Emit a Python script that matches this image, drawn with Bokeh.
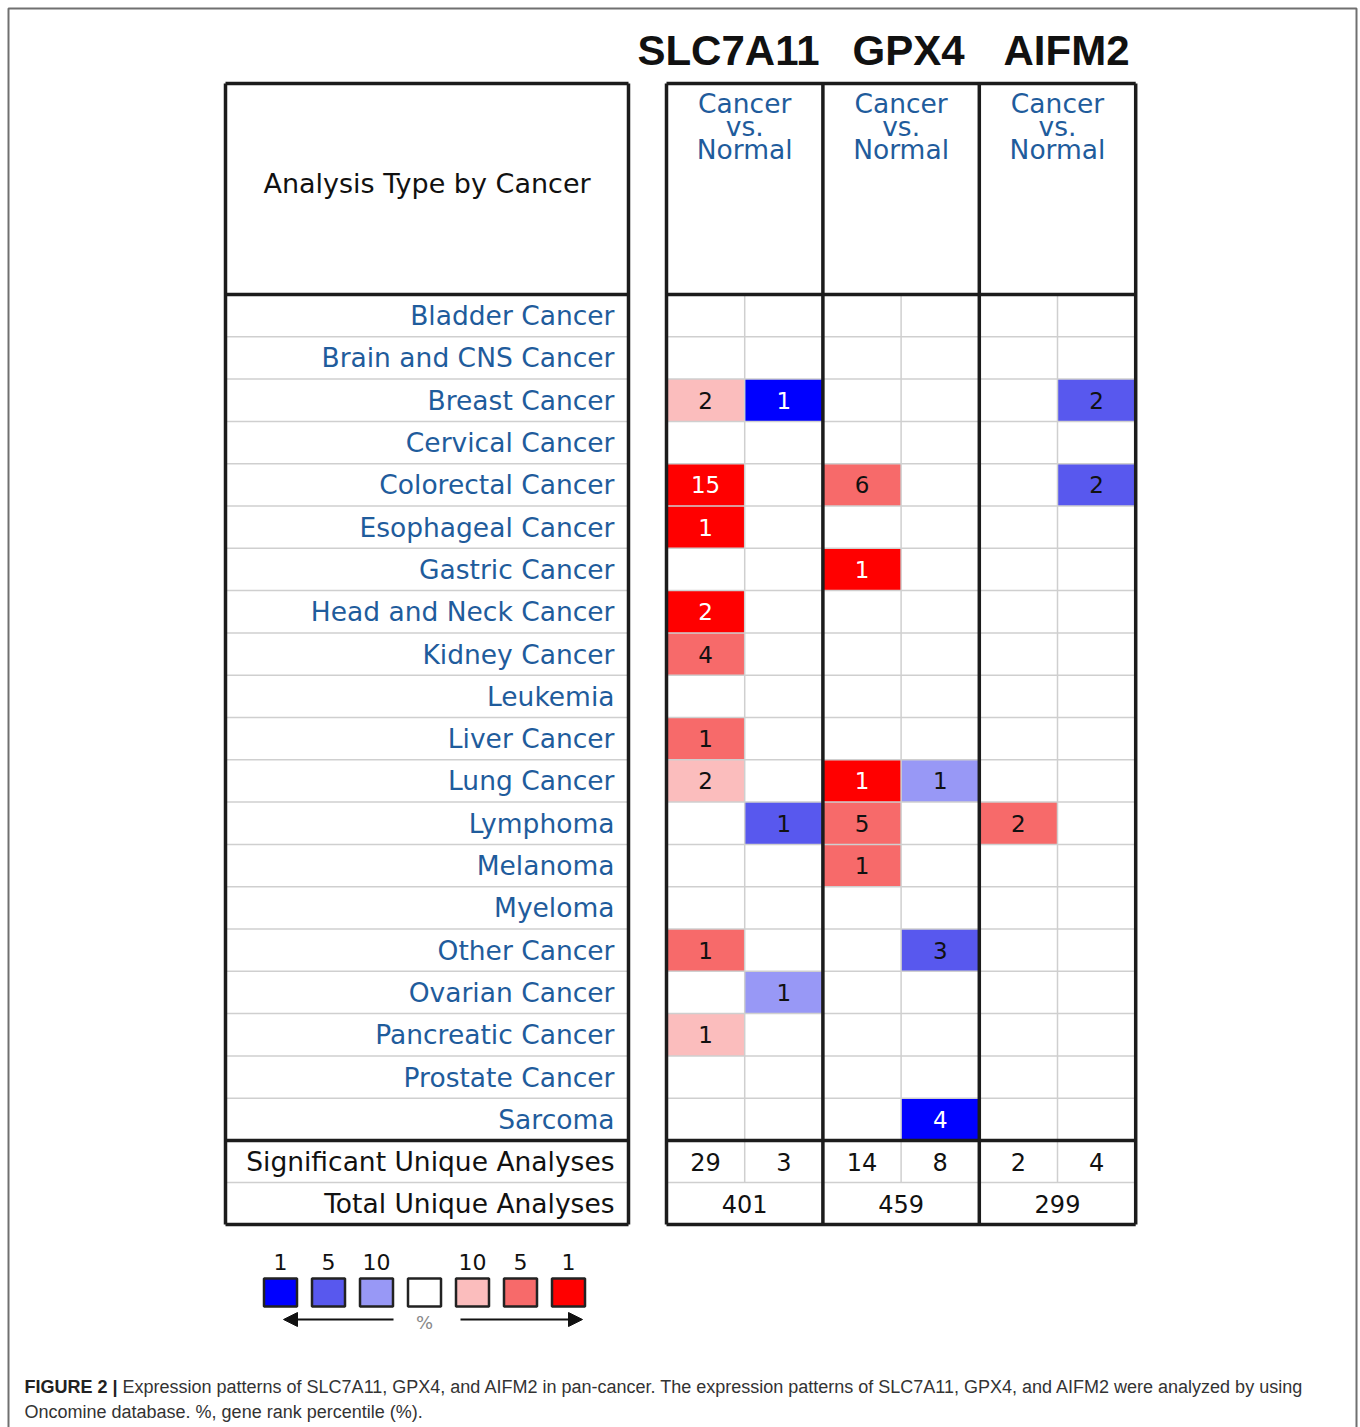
from bokeh.plotting import figure
from bokeh.models import Range1d, Arrow, NormalHead, ColumnDataSource
from bokeh.core.properties import value
from bokeh.embed import file_html
from bokeh.resources import INLINE

# ---------------- data ----------------
genes = ["SLC7A11", "GPX4", "AIFM2"]
cancers = ["Bladder Cancer", "Brain and CNS Cancer", "Breast Cancer", "Cervical Cancer",
           "Colorectal Cancer", "Esophageal Cancer", "Gastric Cancer", "Head and Neck Cancer",
           "Kidney Cancer", "Leukemia", "Liver Cancer", "Lung Cancer", "Lymphoma",
           "Melanoma", "Myeloma", "Other Cancer", "Ovarian Cancer", "Pancreatic Cancer",
           "Prostate Cancer", "Sarcoma"]
# counts of analyses (0 = none); over-expression (red) and under-expression (blue)
slc7a11_up   = [0, 0, 2, 0, 15, 1, 0, 2, 4, 0, 1, 2, 0, 0, 0, 1, 0, 1, 0, 0]
slc7a11_up_rank = [0, 0, 10, 0, 1, 1, 0, 1, 5, 0, 5, 10, 0, 0, 0, 5, 0, 10, 0, 0]
slc7a11_down = [0, 0, 1, 0, 0, 0, 0, 0, 0, 0, 0, 0, 1, 0, 0, 0, 1, 0, 0, 0]
slc7a11_down_rank = [0, 0, 1, 0, 0, 0, 0, 0, 0, 0, 0, 0, 5, 0, 0, 0, 10, 0, 0, 0]
gpx4_up      = [0, 0, 0, 0, 6, 0, 1, 0, 0, 0, 0, 1, 5, 1, 0, 0, 0, 0, 0, 0]
gpx4_up_rank = [0, 0, 0, 0, 5, 0, 1, 0, 0, 0, 0, 1, 5, 5, 0, 0, 0, 0, 0, 0]
gpx4_down    = [0, 0, 0, 0, 0, 0, 0, 0, 0, 0, 0, 1, 0, 0, 0, 3, 0, 0, 0, 4]
gpx4_down_rank = [0, 0, 0, 0, 0, 0, 0, 0, 0, 0, 0, 10, 0, 0, 0, 5, 0, 0, 0, 1]
aifm2_up     = [0, 0, 0, 0, 0, 0, 0, 0, 0, 0, 0, 0, 2, 0, 0, 0, 0, 0, 0, 0]
aifm2_up_rank = [0, 0, 0, 0, 0, 0, 0, 0, 0, 0, 0, 0, 5, 0, 0, 0, 0, 0, 0, 0]
aifm2_down   = [0, 0, 2, 0, 2, 0, 0, 0, 0, 0, 0, 0, 0, 0, 0, 0, 0, 0, 0, 0]
aifm2_down_rank = [0, 0, 5, 0, 5, 0, 0, 0, 0, 0, 0, 0, 0, 0, 0, 0, 0, 0, 0, 0]
significant = [[29, 3], [14, 8], [2, 4]]
total = [401, 459, 299]
legend_labels = ["1", "5", "10", "", "10", "5", "1"]
caption_bold = "FIGURE 2 |"
caption_1 = "Expression patterns of SLC7A11, GPX4, and AIFM2 in pan-cancer. The expression patterns of SLC7A11, GPX4, and AIFM2 were analyzed by using"
caption_2 = "Oncomine database. %, gene rank percentile (%)."

# ---------------- styles ----------------
RED = {1: "#ff0000", 5: "#f76a6a", 10: "#fbbdbd"}
BLUE = {1: "#0000ff", 5: "#5858ee", 10: "#9898f6"}
LINK = "#1f5c9c"
THICK = "#1c1c1c"
THIN = "#cfcfcf"
FONT = value("DejaVu Sans")
SANS = value("Liberation Sans")

# layout (pixels)
LX0, LX1 = 225, 628
RX0, GW = 666, 156.4
TOP, BODY, RH = 83, 294, 42.3
NR = len(cancers)
SIG_T = BODY + NR * RH
TOT_T = SIG_T + 42
BOT = TOT_T + 42
RX1 = RX0 + GW * len(genes)
TITLE_X = [728, 908, 1066]

p = figure(width=1360, height=1427, x_range=Range1d(0, 1360), y_range=Range1d(1427, 0),
           output_backend="svg", toolbar_location=None, min_border=0,
           x_axis_location=None, y_axis_location=None)
p.grid.visible = False
p.outline_line_color = None
p.background_fill_color = "white"
p.border_fill_color = "white"

# outer frame
p.quad(left=[8], right=[1356], top=[8], bottom=[1440], fill_color=None,
       line_color="#707070", line_width=2)

# ---------------- cells ----------------
cols = [(slc7a11_up, slc7a11_up_rank, slc7a11_down, slc7a11_down_rank),
        (gpx4_up, gpx4_up_rank, gpx4_down, gpx4_down_rank),
        (aifm2_up, aifm2_up_rank, aifm2_down, aifm2_down_rank)]
cl, cr, ct, cb, cc, tx, ty, tt, tc = [], [], [], [], [], [], [], [], []
for gi, (up, upr, dn, dnr) in enumerate(cols):
    for side, (vals, ranks, pal) in enumerate([(up, upr, RED), (dn, dnr, BLUE)]):
        for ri, (v, r) in enumerate(zip(vals, ranks)):
            if v:
                x0 = RX0 + gi * GW + side * GW / 2
                cl.append(x0); cr.append(x0 + GW / 2)
                ct.append(BODY + ri * RH); cb.append(BODY + (ri + 1) * RH)
                cc.append(pal[r])
                tx.append(x0 + GW / 4); ty.append(BODY + (ri + 0.5) * RH)
                tt.append(str(v)); tc.append("white" if r == 1 else "#111111")
p.quad(source=ColumnDataSource(dict(left=cl, right=cr, top=ct, bottom=cb, c=cc)),
       left="left", right="right", top="top", bottom="bottom",
       fill_color="c", line_color=None)

# thin grid lines
hx0, hx1, hy = [], [], []
for i in range(1, NR):
    for a, b in [(LX0, LX1), (RX0, RX1)]:
        hx0.append(a); hx1.append(b); hy.append(BODY + i * RH)
for a, b in [(LX0, LX1), (RX0, RX1)]:
    hx0.append(a); hx1.append(b); hy.append(TOT_T)
p.segment(x0=hx0, x1=hx1, y0=hy, y1=hy, line_color=THIN, line_width=1.5)
vx = [RX0 + gi * GW + GW / 2 for gi in range(len(genes))]
p.segment(x0=vx, x1=vx, y0=[BODY] * 3, y1=[TOT_T] * 3, line_color=THIN, line_width=1.5)

p.text(x=tx, y=ty, text=tt, text_color=tc, text_font=FONT, text_font_size="23px",
       text_align="center", text_baseline="middle")

# thick lines
sx0, sx1, sy0, sy1 = [], [], [], []
for a, b in [(LX0, LX1), (RX0, RX1)]:
    for yy in [TOP, BODY, SIG_T, BOT]:
        sx0.append(a); sx1.append(b); sy0.append(yy); sy1.append(yy)
for xx in [LX0, LX1] + [RX0 + gi * GW for gi in range(len(genes) + 1)]:
    sx0.append(xx); sx1.append(xx); sy0.append(TOP); sy1.append(BOT)
p.segment(x0=sx0, x1=sx1, y0=sy0, y1=sy1, line_color=THICK, line_width=3.5)

# ---------------- texts ----------------
p.text(x=TITLE_X, y=[50] * 3, text=genes,
       text_font=SANS, text_font_style="bold",
       text_font_size="42px", text_align="center", text_baseline="middle", text_color="#111111")

hdr_x, hdr_y, hdr_t = [], [], []
for gi in range(len(genes)):
    for k, w in enumerate(["Cancer", "vs.", "Normal"]):
        hdr_x.append(RX0 + (gi + 0.5) * GW); hdr_y.append(103 + k * 23); hdr_t.append(w)
p.text(x=hdr_x, y=hdr_y, text=hdr_t, text_font=FONT, text_font_size="26.5px",
       text_align="center", text_baseline="middle", text_color=LINK)

p.text(x=[(LX0 + LX1) / 2], y=[183], text=["Analysis Type by Cancer"], text_font=FONT,
       text_font_size="27px", text_align="center", text_baseline="middle", text_color="#111111")

p.text(x=[614] * NR, y=[BODY + (i + 0.5) * RH for i in range(NR)], text=cancers,
       text_font=FONT, text_font_size="26.5px", text_align="right", text_baseline="middle",
       text_color=LINK)

p.text(x=[614, 614], y=[SIG_T + 21, TOT_T + 21],
       text=["Significant Unique Analyses", "Total Unique Analyses"],
       text_font=FONT, text_font_size="26.5px", text_align="right", text_baseline="middle",
       text_color="#111111")

sgx, sgt = [], []
for gi, pair in enumerate(significant):
    for side, v in enumerate(pair):
        sgx.append(RX0 + gi * GW + side * GW / 2 + GW / 4); sgt.append(str(v))
p.text(x=sgx, y=[SIG_T + 21] * len(sgx), text=sgt, text_font=FONT, text_font_size="24px",
       text_align="center", text_baseline="middle", text_color="#111111")
p.text(x=[RX0 + (gi + 0.5) * GW for gi in range(len(genes))], y=[TOT_T + 21] * 3,
       text=[str(t) for t in total], text_font=FONT, text_font_size="24px",
       text_align="center", text_baseline="middle", text_color="#111111")

# ---------------- legend ----------------
leg_cols = [BLUE[1], BLUE[5], BLUE[10], "white", RED[10], RED[5], RED[1]]
lx = [280 + i * 48 for i in range(len(leg_cols))]
p.rect(x=lx, y=[1292] * 7, width=33, height=28, fill_color=leg_cols,
       line_color="#222222", line_width=2.5)
p.text(x=lx, y=[1261] * 7, text=legend_labels, text_font=FONT, text_font_size="22px",
       text_align="center", text_baseline="middle", text_color="#111111")
p.add_layout(Arrow(end=NormalHead(size=14, fill_color="#111111", line_color="#111111"),
                   x_start=393, y_start=1319, x_end=283, y_end=1319,
                   line_color="#111111", line_width=2))
p.add_layout(Arrow(end=NormalHead(size=14, fill_color="#111111", line_color="#111111"),
                   x_start=460, y_start=1319, x_end=582, y_end=1319,
                   line_color="#111111", line_width=2))
p.text(x=[424], y=[1322], text=["%"], text_font=FONT, text_font_size="18px",
       text_align="center", text_baseline="middle", text_color="#888888")

# ---------------- caption ----------------
p.text(x=[24], y=[1386], text=[caption_bold], text_font=SANS,
       text_font_style="bold", text_font_size="18px", text_baseline="middle",
       text_color="#222222")
p.text(x=[122, 24], y=[1386, 1411], text=[caption_1, caption_2],
       text_font=SANS, text_font_size="18px",
       text_baseline="middle", text_color="#333333")

open("out.html", "w").write(file_html(p, INLINE))
